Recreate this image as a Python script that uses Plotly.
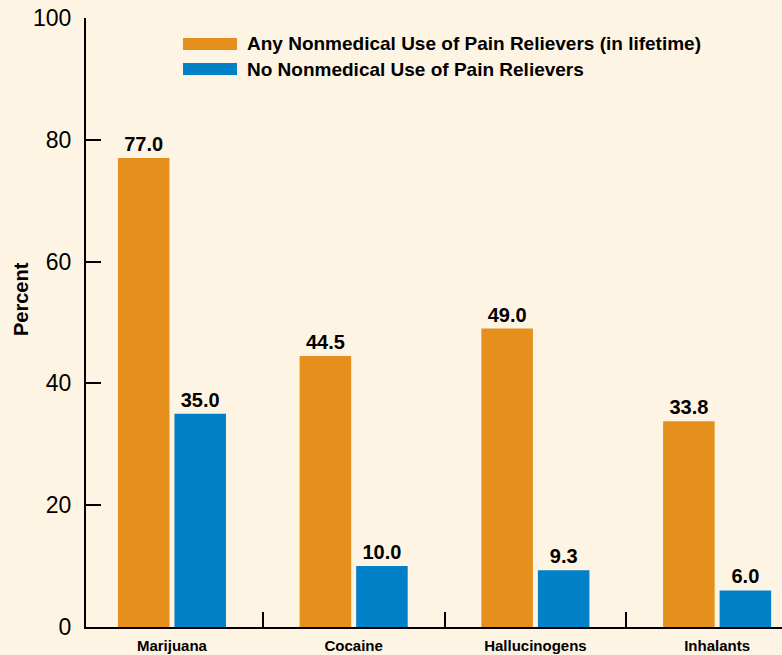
import plotly.graph_objects as go

drugs = ["Marijuana", "Cocaine", "Hallucinogens", "Inhalants"]
any_use = [77.0, 44.5, 49.0, 33.8]
no_use = [35.0, 10.0, 9.3, 6.0]
series_names = ["Any Nonmedical Use of Pain Relievers (in lifetime)",
                "No Nonmedical Use of Pain Relievers"]

ORANGE = "#E58F1D"
BLUE = "#0181C7"
BG = "#FEF4E4"
FONT = "Liberation Sans, Arial, sans-serif"

W, H = 782, 655
L, R, T, B = 86, 0, 18, 28
pw, ph = W - L - R, H - T - B


def px_x(x):
    return (x - L) / pw


def px_y(y):
    return (H - B - y) / ph


fig = go.Figure()
for name, vals, col in [(series_names[0], any_use, ORANGE), (series_names[1], no_use, BLUE)]:
    fig.add_trace(go.Bar(x=drugs, y=vals, name=name, marker_color=col,
        marker_line_width=0, texttemplate="%{y:.1f}", textposition="outside",
        textfont=dict(family=FONT, size=20, color="black", weight="bold"),
        cliponaxis=False, showlegend=False))

# legend drawn by hand (wide swatches)
shapes, annos = [], []
for i, (name, col) in enumerate(zip(series_names, [ORANGE, BLUE])):
    y0 = 38 + i * 25
    shapes.append(dict(type="rect", xref="paper", yref="paper",
        x0=px_x(183), x1=px_x(237), y0=px_y(y0 + 12), y1=px_y(y0),
        fillcolor=col, line_width=0))
    annos.append(dict(xref="paper", yref="paper", x=px_x(245), y=px_y(y0 + 6),
        xanchor="left", yanchor="middle", showarrow=False, text=name,
        font=dict(family=FONT, size=19, color="black", weight="bold")))

annos.append(dict(xref="paper", yref="paper", x=px_x(21), y=px_y(299),
    xanchor="center", yanchor="middle", showarrow=False, text="Percent",
    textangle=-90, font=dict(family=FONT, size=20, color="black", weight="bold")))

fig.update_layout(
    width=W, height=H,
    margin=dict(l=L, r=R, t=T, b=B),
    paper_bgcolor=BG, plot_bgcolor=BG,
    barmode="group", bargap=0.378, bargroupgap=0.088,
    shapes=shapes, annotations=annos,
    xaxis=dict(range=[-0.473, 3.357], tickson="boundaries", ticks="inside",
        ticklen=15, tickwidth=2, tickcolor="black", showline=True,
        linecolor="black", linewidth=2, showgrid=False, zeroline=False,
        ticklabelstandoff=4,
        tickfont=dict(family=FONT, size=15, color="black", weight="bold")),
    yaxis=dict(range=[0, 100], tickvals=[0, 20, 40, 60, 80, 100],
        ticks="inside", ticklen=15, tickwidth=2, tickcolor="black",
        showline=True, linecolor="black", linewidth=2, showgrid=False,
        zeroline=False, ticklabelstandoff=8,
        tickfont=dict(family=FONT, size=23, color="black")),
)

# drop the browser's default page margin so the figure fills the window
fig.write_html("out.html", config={"displayModeBar": False}, post_script=(
    "document.body.style.margin='0';"
    f"document.body.style.background='{BG}';"))
